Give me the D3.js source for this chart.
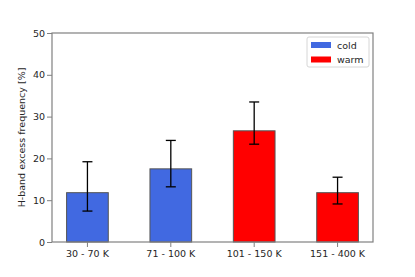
<!DOCTYPE html>
<html>
<head>
<meta charset="utf-8">
<script src="https://cdn.jsdelivr.net/npm/d3@7"></script>
<style>
  body { margin: 0; background: #fff; }
  text { font-family: "DejaVu Sans", sans-serif; fill: #262626; }
</style>
</head>
<body>
<svg width="415" height="277"></svg>
<script>
// data
const categories = ['30 - 70 K', '71 - 100 K', '101 - 150 K', '151 - 400 K']
const groups = ['cold', 'cold', 'warm', 'warm']
const values = [11.8, 17.5, 26.6, 11.8]
const errLow = [7.4, 13.2, 23.4, 9.1]
const errHigh = [19.2, 24.3, 33.5, 15.5]
const yTicks = [0, 10, 20, 30, 40, 50]
const legendNames = ['cold', 'warm']

const svg = d3.select('svg')
const margin = {top: 33, right: 42, bottom: 35, left: 52}
const width = +svg.attr('width')
const height = +svg.attr('height')
const innerWidth = width - margin.left - margin.right
const innerHeight = height - margin.top - margin.bottom

const color = d3.scaleOrdinal()
    .domain(legendNames)
    .range(['#4169e1', '#ff0000'])

const xScale = d3.scaleBand()
    .domain(categories)
    .range([0, innerWidth])
    .paddingInner(0.5)
    .paddingOuter(0.175)

const yScale = d3.scaleLinear()
    .domain([0, 50])
    .range([innerHeight, 0])

const g = svg.append('g')
    .attr('transform', `translate(${margin.left},${margin.top})`)

// bars
g.selectAll('rect.bar').data(categories)
  .enter().append('rect')
    .attr('class', 'bar')
    .attr('x', d => xScale(d))
    .attr('y', (d, i) => yScale(values[i]))
    .attr('width', xScale.bandwidth())
    .attr('height', (d, i) => innerHeight - yScale(values[i]))
    .attr('fill', (d, i) => color(groups[i]))
    .attr('stroke', '#555')
    .attr('stroke-width', 1)

// error bars
const eb = g.selectAll('g.err').data(categories)
  .enter().append('g')
    .attr('transform', d => `translate(${xScale(d) + xScale.bandwidth() / 2},0)`)
eb.append('line')
    .attr('y1', (d, i) => yScale(errLow[i]))
    .attr('y2', (d, i) => yScale(errHigh[i]))
    .attr('stroke', '#000').attr('stroke-width', 1.3)
eb.append('line')
    .attr('x1', -5).attr('x2', 5)
    .attr('y1', (d, i) => yScale(errLow[i]))
    .attr('y2', (d, i) => yScale(errLow[i]))
    .attr('stroke', '#000').attr('stroke-width', 1.3)
eb.append('line')
    .attr('x1', -5).attr('x2', 5)
    .attr('y1', (d, i) => yScale(errHigh[i]))
    .attr('y2', (d, i) => yScale(errHigh[i]))
    .attr('stroke', '#000').attr('stroke-width', 1.3)

// axes
const yAxisG = g.append('g')
    .call(d3.axisLeft(yScale).tickValues(yTicks).tickSize(5).tickPadding(2))
const xAxisG = g.append('g')
    .attr('transform', `translate(0,${innerHeight})`)
    .call(d3.axisBottom(xScale).tickSize(5).tickPadding(3))

svg.selectAll('.domain').remove()
svg.selectAll('.tick line').attr('stroke', '#808080')
svg.selectAll('.tick text')
    .attr('font-size', '9.5px')
    .attr('font-family', '"DejaVu Sans", sans-serif')
    .attr('fill', '#262626')

// spines
g.append('rect')
    .attr('width', innerWidth)
    .attr('height', innerHeight)
    .attr('fill', 'none')
    .attr('stroke', '#808080')
    .attr('stroke-width', 1.2)

// y label
g.append('text')
    .attr('transform', `translate(-27,${innerHeight / 2}) rotate(-90)`)
    .attr('text-anchor', 'middle')
    .attr('font-size', '9.5px')
    .text('H-band excess frequency [%]')

// legend
const legend = g.append('g')
    .attr('transform', `translate(${innerWidth - 66},4)`)
legend.append('rect')
    .attr('width', 62).attr('height', 30)
    .attr('rx', 2)
    .attr('fill', '#fff')
    .attr('stroke', '#d6d6d6')
const items = legend.selectAll('g.item').data(legendNames)
  .enter().append('g')
    .attr('transform', (d, i) => `translate(4,${5 + i * 14.5})`)
items.append('rect')
    .attr('width', 20).attr('height', 6)
    .attr('fill', d => color(d))
items.append('text')
    .attr('x', 26).attr('y', 6.5)
    .attr('font-size', '9.5px')
    .text(d => d)
</script>
</body>
</html>
